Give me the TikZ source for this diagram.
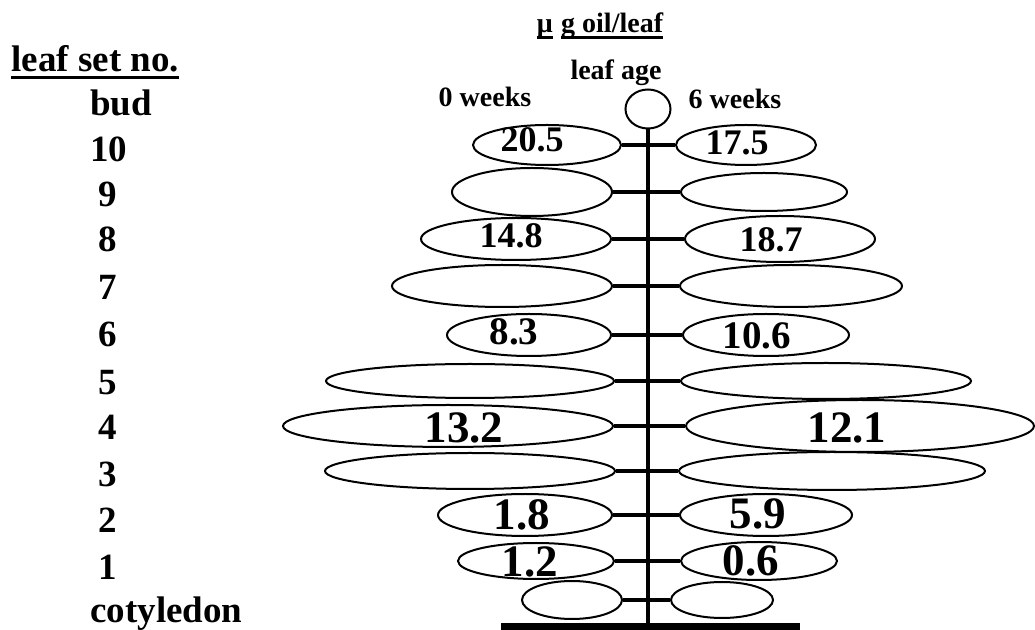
\documentclass[tikz,border=0pt]{standalone}
\usepackage{fontspec}
\setmainfont{Liberation Serif}
\usepackage{tikz}
\usetikzlibrary{shapes.geometric}
\newcommand{\undl}[1]{\setbox0\hbox{#1}\rlap{\rule[-0.2em]{\wd0}{0.08em}}\box0}

\begin{document}
\begin{tikzpicture}[
  x=0.5pt, y=-0.5pt, font=\bfseries,
  leaf/.style={draw, ellipse, line width=1pt, inner sep=0pt},
  twig/.style={line width=2pt},
  lbl/.style={anchor=base west, inner sep=0pt, font=\bfseries\fontsize{18.5}{20}\selectfont},
  head/.style={anchor=base, inner sep=0pt, font=\bfseries\fontsize{14}{16}\selectfont},
  valS/.style={anchor=base, inner sep=0pt, font=\bfseries\fontsize{18}{20}\selectfont},
  valM/.style={anchor=base, inner sep=0pt, font=\bfseries\fontsize{19.5}{21}\selectfont},
  valL/.style={anchor=base, inner sep=0pt, font=\bfseries\fontsize{22.5}{24}\selectfont}
]
\useasboundingbox (0,0) rectangle (1035,630);

% leaf set numbers
\node[lbl] (setno) at (11,72) {\undl{leaf set no.}};
\node[lbl] (nbud) at (90,116) {bud};
\node[lbl] (n10) at (90,162) {10};
\node[lbl] (n9) at (98,207) {9};
\node[lbl] (n8) at (98,252) {8};
\node[lbl] (n7) at (98,300) {7};
\node[lbl] (n6) at (98,347) {6};
\node[lbl] (n5) at (98,395) {5};
\node[lbl] (n4) at (98,440) {4};
\node[lbl] (n3) at (98,487) {3};
\node[lbl] (n2) at (98,533) {2};
\node[lbl] (n1) at (98,580) {1};
\node[lbl] (ncot) at (90,623) {cotyledon};

% headings
\node[head] (unit) at (600,33) {\undl{μ}\hspace{0.3em}\undl{g oil/leaf}};
\node[head] (age) at (616,80) {leaf age};
\node[head] (w0) at (485,107) {0 weeks};
\node[head] (w6) at (735,109) {6 weeks};

% bud, stem and ground
\node[leaf, minimum width=22.5pt, minimum height=19.5pt] (bud) at (648,109) {};
\coordinate (root) at (648,626.5);
\coordinate (gl) at (501,626.5);
\coordinate (gr) at (800,626.5);
\draw[line width=2.2pt] (bud.south) -- (root);
\draw[line width=3.5pt] (gl) -- (gr);

% left leaves (0 weeks)
\node[leaf, minimum width=74pt, minimum height=20pt] (l10) at (547,145) {};
\node[leaf, minimum width=80pt, minimum height=24pt] (l9) at (532,192) {};
\node[leaf, minimum width=95pt, minimum height=21pt] (l8) at (516,239) {};
\node[leaf, minimum width=110pt, minimum height=21pt] (l7) at (502,286) {};
\node[leaf, minimum width=82pt, minimum height=21pt] (l6) at (529,335) {};
\node[leaf, minimum width=144pt, minimum height=17pt] (l5) at (470,381) {};
\node[leaf, minimum width=165pt, minimum height=21pt] (l4) at (448,426) {};
\node[leaf, minimum width=145pt, minimum height=18pt] (l3) at (470,471) {};
\node[leaf, minimum width=87pt, minimum height=21pt] (l2) at (525,515) {};
\node[leaf, minimum width=78pt, minimum height=18pt] (l1) at (536,561) {};
\node[leaf, minimum width=50pt, minimum height=19pt] (lcot) at (572,600) {};

% right leaves (6 weeks)
\node[leaf, minimum width=70pt, minimum height=20pt] (r10) at (746,145) {};
\node[leaf, minimum width=83pt, minimum height=19pt] (r9) at (764,192) {};
\node[leaf, minimum width=95pt, minimum height=23pt] (r8) at (780,239) {};
\node[leaf, minimum width=111pt, minimum height=21pt] (r7) at (791,286) {};
\node[leaf, minimum width=83pt, minimum height=21pt] (r6) at (766,335) {};
\node[leaf, minimum width=145pt, minimum height=18pt] (r5) at (826,381) {};
\node[leaf, minimum width=174pt, minimum height=26pt] (r4) at (860,426) {};
\node[leaf, minimum width=153pt, minimum height=19pt] (r3) at (832,471) {};
\node[leaf, minimum width=86pt, minimum height=21pt] (r2) at (766,515) {};
\node[leaf, minimum width=78pt, minimum height=19pt] (r1) at (759,561) {};
\node[leaf, minimum width=51pt, minimum height=18pt] (rcot) at (722,600) {};

% petioles
\draw[twig] (l10.east) -- (r10.west);
\draw[twig] (l9.east) -- (r9.west);
\draw[twig] (l8.east) -- (r8.west);
\draw[twig] (l7.east) -- (r7.west);
\draw[twig] (l6.east) -- (r6.west);
\draw[twig] (l5.east) -- (r5.west);
\draw[twig] (l4.east) -- (r4.west);
\draw[twig] (l3.east) -- (r3.west);
\draw[twig] (l2.east) -- (r2.west);
\draw[twig] (l1.east) -- (r1.west);
\draw[twig] (lcot.east) -- (rcot.west);

% oil per leaf
\node[valS] (v10l) at (532,152) {20.5};
\node[valS] (v10r) at (737,155) {17.5};
\node[valS] (v8l) at (511,248) {14.8};
\node[valS] (v8r) at (771,252) {18.7};
\node[valM] (v6l) at (514,345) {8.3};
\node[valM] (v6r) at (757,349) {10.6};
\node[valL] (v4l) at (464,443) {13.2};
\node[valL] (v4r) at (847,443) {12.1};
\node[valL] (v2l) at (522,530) {1.8};
\node[valL] (v2r) at (758,529) {5.9};
\node[valL] (v1l) at (530,577) {1.2};
\node[valL] (v1r) at (751,576) {0.6};
\end{tikzpicture}
\end{document}
